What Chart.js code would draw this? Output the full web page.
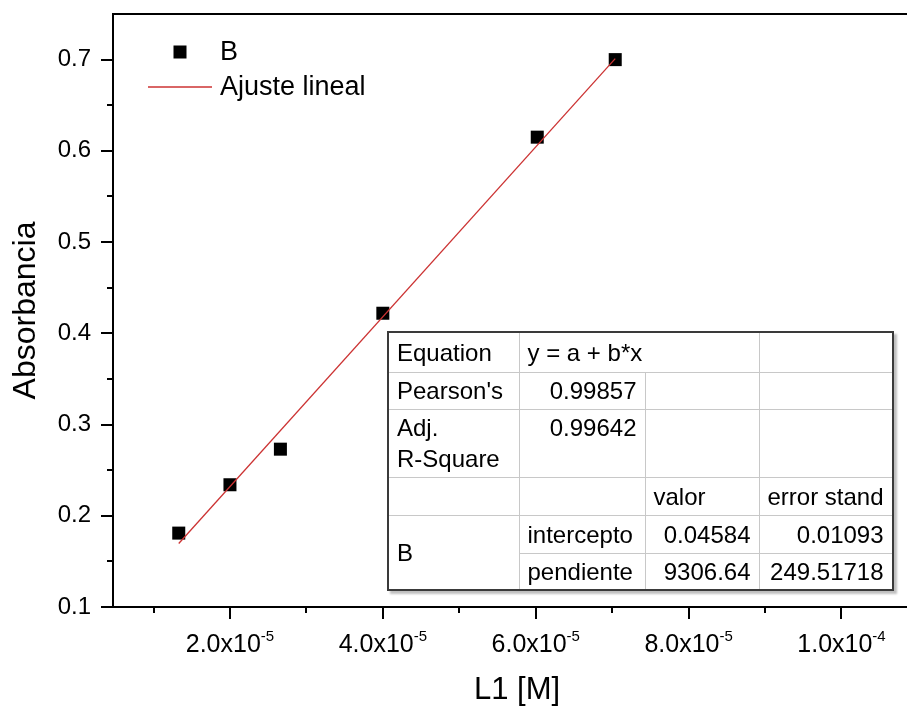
<!DOCTYPE html>
<html>
<head>
<meta charset="utf-8">
<title>Absorbancia vs L1</title>
<script src="https://cdn.jsdelivr.net/npm/chart.js@4/dist/chart.umd.min.js"></script>
<style>
  html, body { margin: 0; padding: 0; background: #fff; overflow: hidden; }
  #wrap { position: relative; width: 907px; height: 709px; overflow: hidden; }
  #chart { position: absolute; left: 0; top: 0; }
  #fit {
    position: absolute; left: 387px; top: 331px;
    border-collapse: collapse; table-layout: fixed;
    background: #fff; color: #000;
    font-family: Arial, "Liberation Sans", sans-serif; font-size: 24px;
    border: 2px solid #3a3a3a;
    box-shadow: 3px 3px 2px rgba(0,0,0,0.25);
  }
  #fit td {
    border: 1px solid #c8c8c8; padding: 0 8px; white-space: nowrap;
    line-height: 31px; overflow: hidden; vertical-align: middle;
  }
  #fit td.num { text-align: right; }
  #fit tr.tall td { vertical-align: top; padding-top: 2px; }
</style>
</head>
<body>
<div id="wrap">
  <canvas id="chart" width="921" height="709"></canvas>
  <table id="fit"></table>
</div>
<script>
// Measured data: ligand concentration L1 [M] vs absorbance (series "B")
const concL1     = [1.33e-5, 2.0e-5, 2.66e-5, 4.0e-5, 6.02e-5, 7.04e-5];
const absorbance = [0.181, 0.234, 0.273, 0.422, 0.615, 0.700];

// Linear fit results
const fitEquation  = 'y = a + b*x';
const pearsonR     = '0.99857';
const adjRSquare   = '0.99642';
const paramHeads   = ['valor', 'error stand'];
const paramNames   = ['intercepto', 'pendiente'];
const paramValues  = [0.04584, 9306.64];
const paramErrors  = ['0.01093', '249.51718'];

// Axis ticks
const xMajorTicks  = [2e-5, 4e-5, 6e-5, 8e-5, 1e-4];
const xTickMant    = ['2.0x10', '4.0x10', '6.0x10', '8.0x10', '1.0x10'];
const xTickExp     = ['-5', '-5', '-5', '-5', '-4'];
const xMinorTicks  = [1e-5, 3e-5, 5e-5, 7e-5, 9e-5];
const yMajorTicks  = [0.1, 0.2, 0.3, 0.4, 0.5, 0.6, 0.7];
const yMinorTicks  = [0.15, 0.25, 0.35, 0.45, 0.55, 0.65];

const FONT = 'Arial, "Liberation Sans", sans-serif';
const FIT_COLOR = '#cc3333';

// Fitted line over the measured concentration range
const xFit = [Math.min(...concL1), Math.max(...concL1)];
const fitPoints = xFit.map(v => ({ x: v, y: paramValues[0] + paramValues[1] * v }));

// Tick marks, top frame, x tick labels with exponents, and the legend
const decor = {
  id: 'decor',
  afterDraw(chart) {
    const { ctx, chartArea: a, scales: { x, y } } = chart;
    const seg = (x1, y1, x2, y2) => { ctx.beginPath(); ctx.moveTo(x1, y1); ctx.lineTo(x2, y2); ctx.stroke(); };
    ctx.save();
    ctx.strokeStyle = '#000';
    ctx.lineWidth = 2;
    seg(a.left - 1, Math.round(a.top), a.right, Math.round(a.top));

    xMajorTicks.forEach(v => { const p = Math.round(x.getPixelForValue(v)); seg(p, a.bottom, p, a.bottom + 12); });
    xMinorTicks.forEach(v => { const p = Math.round(x.getPixelForValue(v)); seg(p, a.bottom, p, a.bottom + 6); });
    yMajorTicks.forEach(v => { const p = Math.round(y.getPixelForValue(v)); seg(a.left - 12, p, a.left, p); });
    yMinorTicks.forEach(v => { const p = Math.round(y.getPixelForValue(v)); seg(a.left - 6, p, a.left, p); });

    // x tick labels: mantissa plus raised exponent, centred on the tick
    ctx.fillStyle = '#000';
    ctx.textBaseline = 'alphabetic';
    ctx.textAlign = 'left';
    xMajorTicks.forEach((v, i) => {
      const p = x.getPixelForValue(v);
      ctx.font = '25px ' + FONT;
      const wm = ctx.measureText(xTickMant[i]).width;
      ctx.font = '15px ' + FONT;
      const we = ctx.measureText(xTickExp[i]).width;
      const x0 = p - (wm + we) / 2;
      ctx.font = '25px ' + FONT;
      ctx.fillText(xTickMant[i], x0, a.bottom + 45);
      ctx.font = '15px ' + FONT;
      ctx.fillText(xTickExp[i], x0 + wm, a.bottom + 34);
    });

    // legend
    const ds = chart.data.datasets;
    const lx = a.left + 67, ly1 = a.top + 38, ly2 = a.top + 73;
    ctx.fillStyle = '#000';
    ctx.fillRect(lx - 6.5, ly1 - 6.5, 13, 13);
    ctx.strokeStyle = FIT_COLOR;
    ctx.lineWidth = 1.3;
    seg(a.left + 35, ly2, a.left + 99, ly2);
    ctx.font = '27px ' + FONT;
    ctx.textBaseline = 'middle';
    ctx.fillStyle = '#000';
    ctx.fillText(ds[0].label, a.left + 107, ly1 + 1);
    ctx.fillText(ds[1].label, a.left + 107, ly2 + 1);
    ctx.restore();
  }
};

new Chart(document.getElementById('chart'), {
  data: {
    datasets: [
      {
        type: 'scatter', label: 'B', order: 2,
        data: concL1.map((v, i) => ({ x: v, y: absorbance[i] })),
        pointStyle: 'rect', pointRadius: 9.2, pointHoverRadius: 9.2,
        backgroundColor: '#000', borderColor: '#000', borderWidth: 0
      },
      {
        type: 'line', label: 'Ajuste lineal', order: 1,
        data: fitPoints, borderColor: FIT_COLOR, borderWidth: 1.3,
        pointRadius: 0, fill: false, tension: 0
      }
    ]
  },
  options: {
    responsive: false, animation: false, devicePixelRatio: 1,
    layout: { autoPadding: false, padding: { top: 14, right: 0, bottom: 0, left: 0 } },
    plugins: { legend: { display: false }, tooltip: { enabled: false } },
    scales: {
      x: {
        type: 'linear', position: 'bottom', min: 4.7e-6, max: 1.104e-4,
        grid: { display: false },
        border: { display: true, color: '#000', width: 2 },
        ticks: { display: false },
        title: { display: true, text: 'L1 [M]', color: '#000',
                 font: { family: FONT, size: 31 }, padding: { top: 0, bottom: 0 } },
        afterFit(s) { s.height = 102; s.paddingLeft = 0; s.paddingRight = 0; }
      },
      y: {
        type: 'linear', position: 'left', min: 0.1, max: 0.75,
        afterBuildTicks(s) { s.ticks = yMajorTicks.map(v => ({ value: v })); },
        grid: { display: true, drawOnChartArea: false, drawTicks: true, tickLength: 12, tickColor: 'rgba(0,0,0,0)' },
        border: { display: true, color: '#000', width: 2 },
        ticks: { color: '#000', padding: 10, font: { family: FONT, size: 24 },
                 callback: v => v.toFixed(1) },
        title: { display: true, text: 'Absorbancia', color: '#000',
                 font: { family: FONT, size: 32 }, padding: { top: 7, bottom: 0 } },
        afterFit(s) { s.width = 113; s.paddingTop = 0; s.paddingBottom = 0; }
      }
    }
  },
  plugins: [decor]
});

// Fit results table
(function buildTable() {
  const t = document.getElementById('fit');
  const colW = [131, 126, 114, 131];
  const cg = document.createElement('colgroup');
  colW.forEach(w => { const c = document.createElement('col'); c.style.width = w + 'px'; cg.appendChild(c); });
  t.appendChild(cg);
  const row = (h, cls) => { const r = t.insertRow(); r.style.height = h + 'px'; if (cls) r.className = cls; return r; };
  const cell = (r, text, opts = {}) => {
    const c = r.insertCell();
    if (opts.html) c.innerHTML = text; else c.textContent = text;
    if (opts.num) c.className = 'num';
    if (opts.colSpan) c.colSpan = opts.colSpan;
    if (opts.rowSpan) c.rowSpan = opts.rowSpan;
    return c;
  };
  let r = row(40); cell(r, 'Equation'); cell(r, fitEquation, { colSpan: 2 }); cell(r, '');
  r = row(37); cell(r, "Pearson's"); cell(r, pearsonR, { num: true }); cell(r, ''); cell(r, '');
  r = row(68, 'tall'); cell(r, 'Adj.<br>R-Square', { html: true }); cell(r, adjRSquare, { num: true }); cell(r, ''); cell(r, '');
  r = row(38); cell(r, ''); cell(r, ''); cell(r, paramHeads[0]); cell(r, paramHeads[1]);
  r = row(38); cell(r, 'B', { rowSpan: 2 }); cell(r, paramNames[0]);
  cell(r, String(paramValues[0]), { num: true }); cell(r, paramErrors[0], { num: true });
  r = row(37); cell(r, paramNames[1]);
  cell(r, String(paramValues[1]), { num: true }); cell(r, paramErrors[1], { num: true });
})();
</script>
</body>
</html>
